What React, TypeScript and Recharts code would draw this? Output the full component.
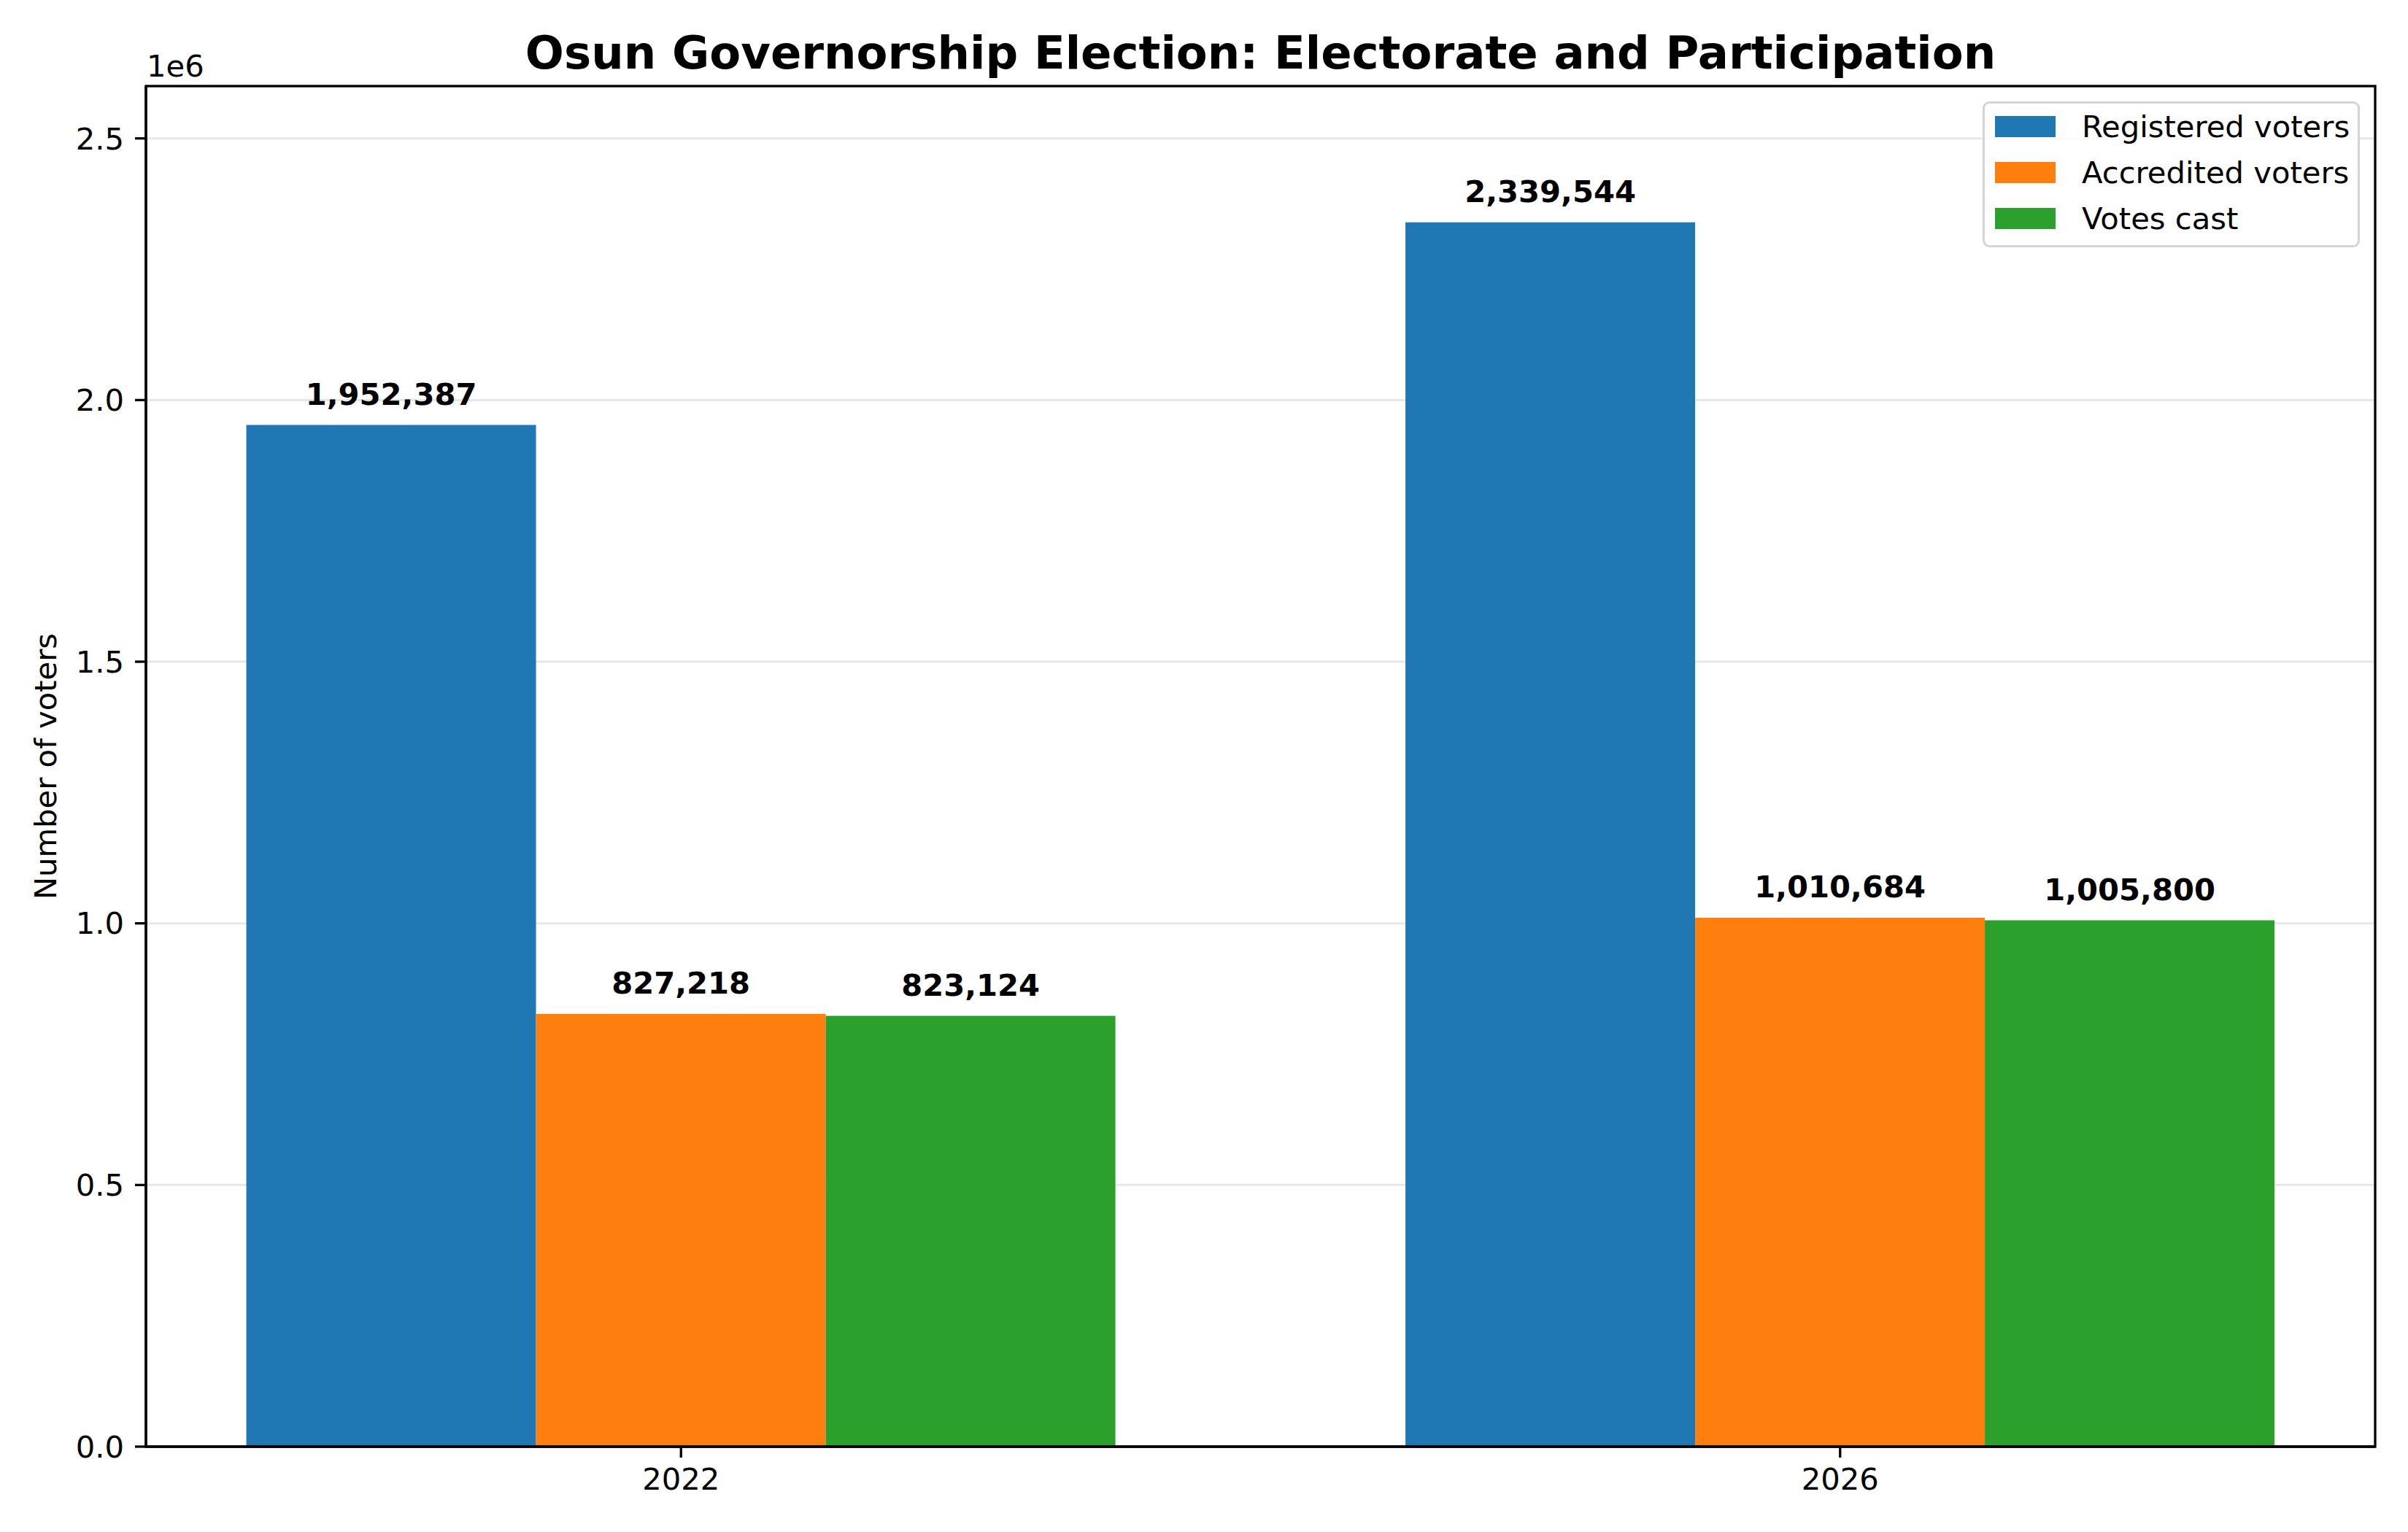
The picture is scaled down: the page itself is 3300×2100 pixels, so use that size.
import { BarChart, Bar, XAxis, YAxis, CartesianGrid, Legend, LabelList } from 'recharts'

const years = ['2022', '2026']
const registeredVoters = [1952387, 2339544]
const accreditedVoters = [827218, 1010684]
const votesCast = [823124, 1005800]
const yTicks = [0, 500000, 1000000, 1500000, 2000000, 2500000]

const seriesKeys = ['registered', 'accredited', 'cast']
const seriesNames = ['Registered voters', 'Accredited voters', 'Votes cast']
const seriesColors = ['#1f77b4', '#ff7f0e', '#2ca02c']

// groups sit at x = 0, 1 like a matplotlib bar chart
const data = years.map((year, i) => ({
  pos: i,
  year,
  registered: registeredVoters[i],
  accredited: accreditedVoters[i],
  cast: votesCast[i],
}))

const FONT = '"DejaVu Sans", sans-serif'
const W = 3300
const H = 2100
// plot box, in page pixels
const PLOT_LEFT = 200
const PLOT_RIGHT = 3255
const PLOT_TOP = 118
const PLOT_BOTTOM = 1983
const Y_AXIS_W = 140
const X_AXIS_H = 70

const tickStyle = { fontSize: 41.7, fill: '#000', fontFamily: FONT }

function ValueLabel(props: any) {
  const { x, y, width, value } = props
  return (
    <text
      x={x + width / 2}
      y={y - 28}
      textAnchor="middle"
      fontFamily={FONT}
      fontWeight="bold"
      fontSize={41.7}
      fill="#000"
    >
      {Number(value).toLocaleString('en-US')}
    </text>
  )
}

function LegendBox() {
  return (
    <div
      style={{
        boxSizing: 'border-box',
        width: 517,
        height: 200,
        border: '3px solid #d5d5d5',
        borderRadius: 9,
        background: 'rgba(255,255,255,0.8)',
        fontFamily: FONT,
        fontSize: 41.7,
        color: '#000',
      }}
    >
      {seriesNames.map((name, i) => (
        <div key={name} style={{ height: 63, display: 'flex', alignItems: 'center' }}>
          <span
            style={{
              display: 'inline-block',
              width: 83,
              height: 29,
              marginLeft: 14,
              marginRight: 36,
              background: seriesColors[i],
            }}
          />
          <span>{name}</span>
        </div>
      ))}
    </div>
  )
}

export default function App() {
  return (
    <div style={{ position: 'relative', width: W, height: H, background: '#fff' }}>
      <style>{'body{margin:0}'}</style>
      <BarChart
        width={W}
        height={H}
        data={data}
        margin={{
          top: PLOT_TOP,
          right: W - PLOT_RIGHT,
          bottom: H - PLOT_BOTTOM - X_AXIS_H,
          left: PLOT_LEFT - Y_AXIS_W,
        }}
        barCategoryGap="12.5%"
        barGap={0}
      >
        <XAxis
          dataKey="pos"
          type="number"
          domain={[-0.4616, 1.4616]}
          ticks={[0, 1]}
          allowDataOverflow
          tickFormatter={(v: number) => years[v]}
          height={X_AXIS_H}
          tick={tickStyle}
          tickSize={15}
          tickMargin={14}
          axisLine={{ stroke: '#000', strokeWidth: 3.3 }}
          tickLine={{ stroke: '#000', strokeWidth: 3.3 }}
        />
        <YAxis
          width={Y_AXIS_W}
          domain={[0, 2600000]}
          ticks={yTicks}
          allowDataOverflow
          tickFormatter={(v: number) => (v / 1e6).toFixed(1)}
          tick={tickStyle}
          tickSize={15}
          tickMargin={15}
          axisLine={{ stroke: '#000', strokeWidth: 3.3 }}
          tickLine={{ stroke: '#000', strokeWidth: 3.3 }}
        />
        {seriesKeys.map((key, i) => (
          <Bar
            key={key}
            dataKey={key}
            name={seriesNames[i]}
            fill={seriesColors[i]}
            isAnimationActive={false}
          >
            <LabelList dataKey={key} content={ValueLabel} />
          </Bar>
        ))}
        <CartesianGrid
          vertical={false}
          stroke="#b0b0b0"
          strokeOpacity={0.3}
          strokeWidth={3}
        />
        <Legend
          layout="vertical"
          align="center"
          verticalAlign="middle"
          content={LegendBox}
          wrapperStyle={{ position: 'absolute', top: 139, left: 2717, width: 517, height: 200 }}
        />
      </BarChart>
      <svg
        width={W}
        height={H}
        style={{ position: 'absolute', left: 0, top: 0, pointerEvents: 'none' }}
      >
        {/* axes frame (top and right spines) */}
        <rect
          x={PLOT_LEFT}
          y={PLOT_TOP}
          width={PLOT_RIGHT - PLOT_LEFT}
          height={PLOT_BOTTOM - PLOT_TOP}
          fill="none"
          stroke="#000"
          strokeWidth={3.3}
        />
        <text
          x={(PLOT_LEFT + PLOT_RIGHT) / 2}
          y={94}
          textAnchor="middle"
          fontFamily={FONT}
          fontWeight="bold"
          fontSize={62.5}
        >
          Osun Governorship Election: Electorate and Participation
        </text>
        <text x={201} y={105} fontFamily={FONT} fontSize={41.7}>
          1e6
        </text>
        <text
          transform={`translate(77, ${(PLOT_TOP + PLOT_BOTTOM) / 2}) rotate(-90)`}
          textAnchor="middle"
          fontFamily={FONT}
          fontSize={41.7}
        >
          Number of voters
        </text>
      </svg>
    </div>
  )
}
